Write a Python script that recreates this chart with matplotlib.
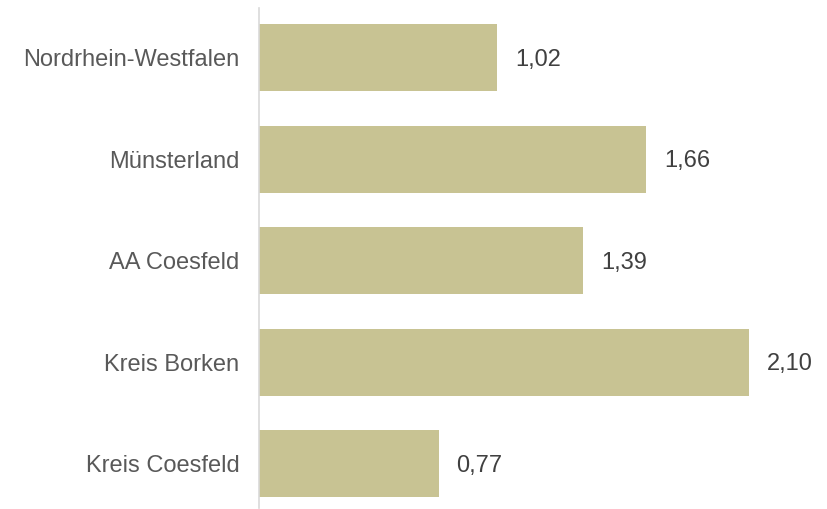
import matplotlib

matplotlib.use("Agg")
import matplotlib.pyplot as plt

categories = ["Nordrhein-Westfalen", "Münsterland", "AA Coesfeld", "Kreis Borken", "Kreis Coesfeld"]
values = [1.02, 1.66, 1.39, 2.10, 0.77]

plt.rcParams["font.family"] = ["Liberation Sans", "DejaVu Sans"]

fig = plt.figure(figsize=(8.27, 5.09), dpi=100)
# axes spans x 259..800 px, y 8..508 px
ax = fig.add_axes([259 / 827, 1 / 509, 541 / 827, 500 / 509])

pos = list(range(len(categories)))
ax.barh(pos, values, height=0.66, color="#C8C393")
for p, v in zip(pos, values):
    ax.text(v + 0.077, p + 0.02, ("%.2f" % v).replace(".", ","), va="center", ha="left",
            fontsize=17, color="#404040")

ax.set_xlim(0, 541 / 233.3)
ax.set_ylim(4.438, -0.488)
ax.set_yticks(pos)
ax.set_yticklabels(categories, fontsize=17, color="#595959")
ax.tick_params(axis="y", length=0, pad=14)
ax.set_xticks([])
for s in ("top", "right", "bottom"):
    ax.spines[s].set_visible(False)
ax.spines["left"].set_color("#D9D9D9")
ax.spines["left"].set_linewidth(1.2)

fig.savefig("out.png", dpi=100)
